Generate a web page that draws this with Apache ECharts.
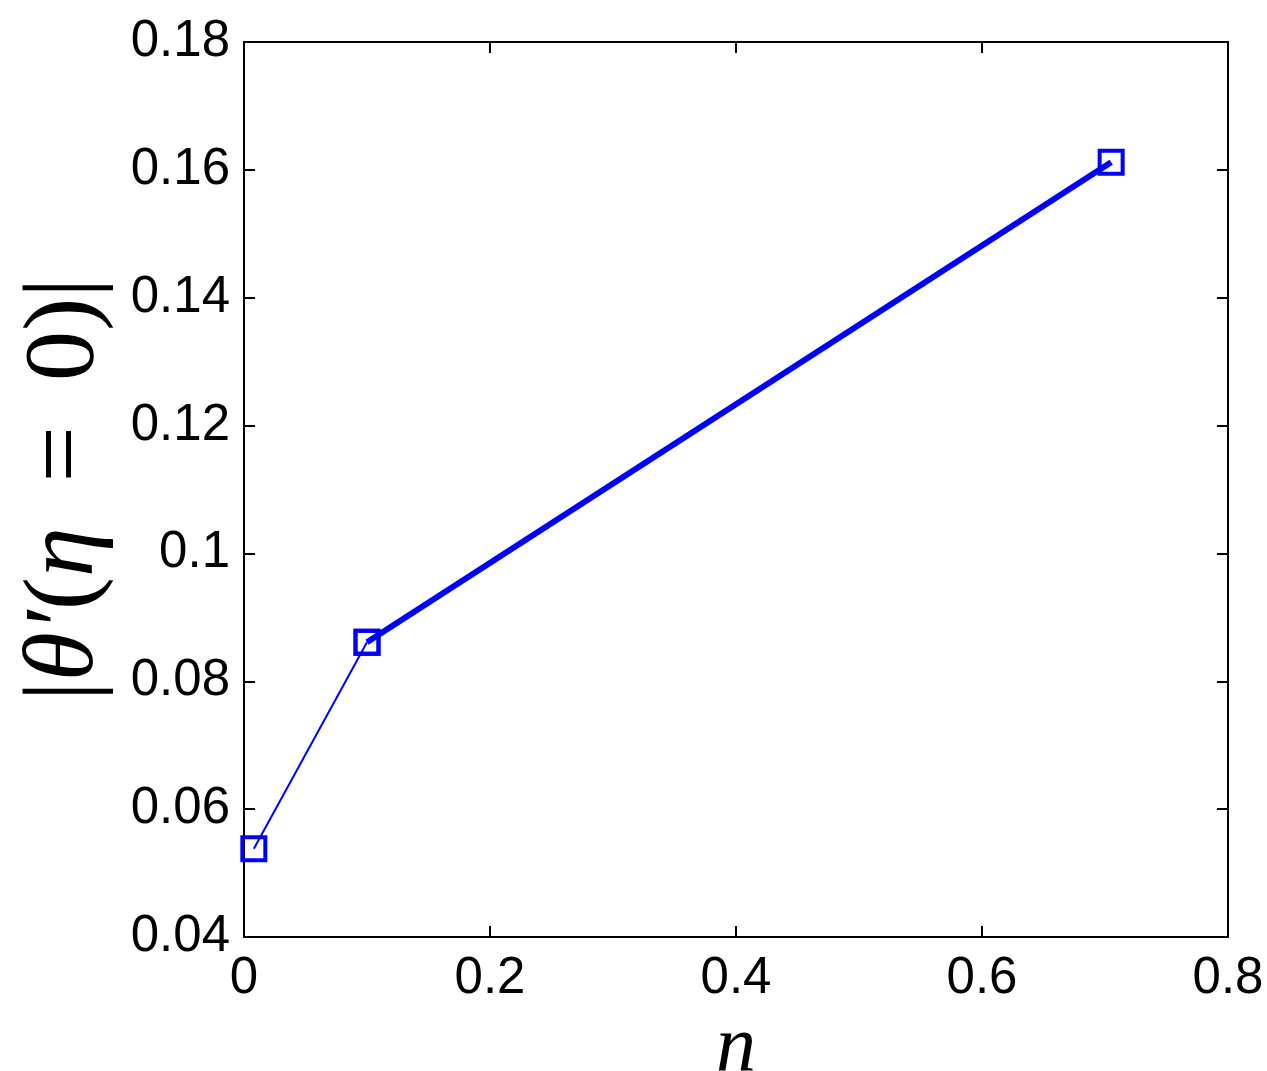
<!DOCTYPE html>
<html><head><meta charset="utf-8">
<script src="https://cdn.jsdelivr.net/npm/echarts@6/dist/echarts.min.js"></script>
<style>html,body{margin:0;padding:0;background:#fff}#c{width:1267px;height:1071px}</style>
</head><body><div id="c"></div>
<script>
const nValues = [0.008, 0.1, 0.705];
const thetaValues = [0.0538, 0.0861, 0.1612];
const xTicks = [0, 0.2, 0.4, 0.6, 0.8];
const yTicks = [0.04, 0.06, 0.08, 0.1, 0.12, 0.14, 0.16, 0.18];
const xLabel = 'n';
const yLabel = '{u||}{i|θ′}{u|(}{i|η}{u| \u2009=\u2009 0)|}';

const pts = nValues.map((x, i) => [x, thetaValues[i]]);
const fmt = v => String(+v.toFixed(2));
const serif = 'Liberation Serif, DejaVu Serif, serif';
function mkAxis(extra) {
  return Object.assign({
    type:'value',
    axisLine:{show:true, onZero:false, lineStyle:{color:'#000', width:2}},
    axisTick:{show:true, inside:true, length:11, lineStyle:{color:'#000', width:2}},
    splitLine:{show:false}
  }, extra);
}
function tickLabel(margin) {
  return {color:'#000', fontFamily:'Liberation Sans, Arial, sans-serif', fontSize:51, margin:margin, formatter:fmt};
}
const chart = echarts.init(document.getElementById('c'));
chart.setOption({
  animation:false,
  backgroundColor:'#fff',
  grid:{left:244, right:39, top:42, bottom:134, containLabel:false, outerBoundsMode:'none'},
  xAxis:[
    mkAxis({position:'bottom', min:xTicks[0], max:xTicks[xTicks.length-1], interval:0.2,
      axisLabel:tickLabel(16),
      name:xLabel, nameLocation:'middle', nameGap:47,
      nameTextStyle:{fontFamily:serif, fontStyle:'italic', fontSize:80, color:'#000'}}),
    mkAxis({position:'top', min:xTicks[0], max:xTicks[xTicks.length-1], interval:0.2,
      axisLabel:{show:false}})
  ],
  yAxis:[
    mkAxis({position:'left', min:yTicks[0], max:yTicks[yTicks.length-1], interval:0.02,
      axisLabel:tickLabel(14),
      name:yLabel, nameLocation:'middle', nameGap:128, nameRotate:90,
      nameTextStyle:{color:'#000', fontSize:100, rich:{
        u:{fontFamily:serif, fontSize:100, color:'#000'},
        i:{fontFamily:serif, fontStyle:'italic', fontSize:100, color:'#000'}
      }}}),
    mkAxis({position:'right', min:yTicks[0], max:yTicks[yTicks.length-1], interval:0.02,
      axisLabel:{show:false}})
  ],
  series:[
    {type:'line', data:pts.slice(0,2), symbol:'rect', symbolSize:23, showAllSymbol:true,
     lineStyle:{color:'#0000ff', width:2},
     itemStyle:{color:'rgba(0,0,0,0)', borderColor:'#0000ff', borderWidth:4}, z:3},
    {type:'line', data:pts.slice(1,3), symbol:'rect', symbolSize:23, showAllSymbol:true,
     lineStyle:{color:'#0000ff', width:6},
     itemStyle:{color:'rgba(0,0,0,0)', borderColor:'#0000ff', borderWidth:4}, z:3}
  ]
});
</script></body></html>
